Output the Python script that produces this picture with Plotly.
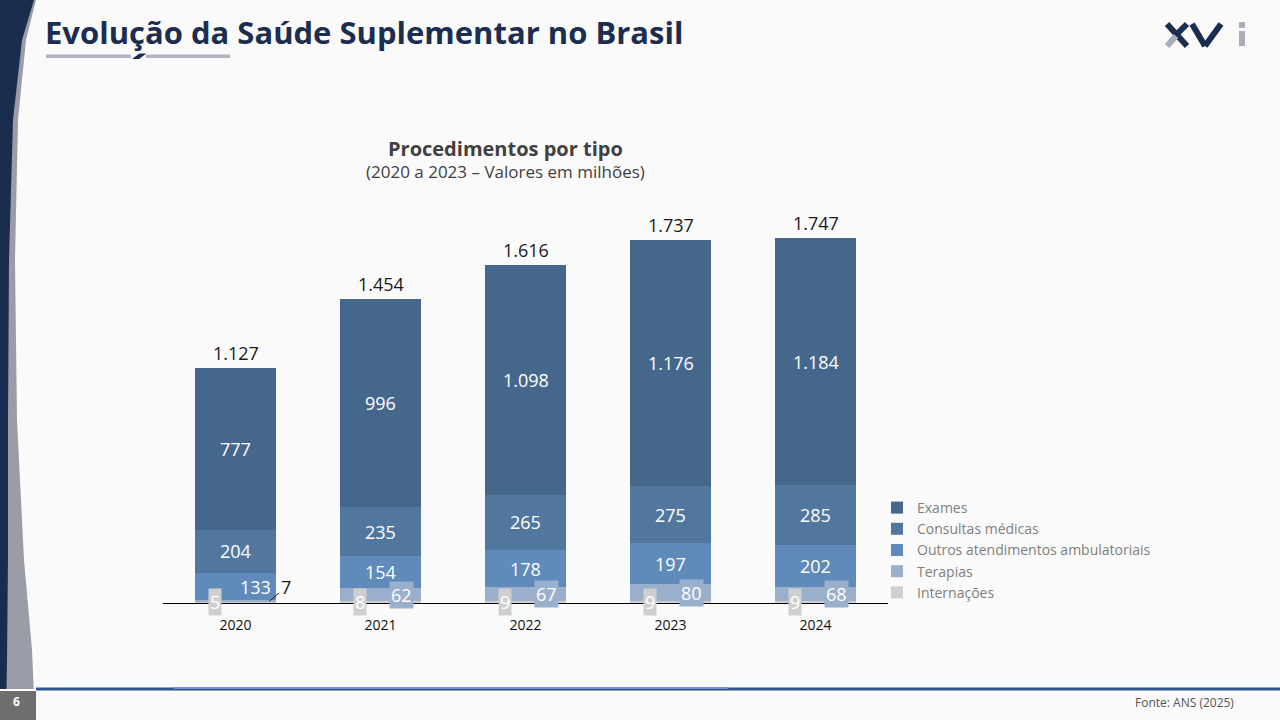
import plotly.graph_objects as go

# ---------------- data ----------------
years = ["2020", "2021", "2022", "2023", "2024"]
internacoes = [5, 8, 9, 9, 9]
terapias = [7, 62, 67, 80, 68]
outros = [133, 154, 178, 197, 202]
consultas = [204, 235, 265, 275, 285]
exames = [777, 996, 1098, 1176, 1184]
totais = [1127, 1454, 1616, 1737, 1747]

series_names = ["Internações", "Terapias", "Outros atendimentos ambulatoriais",
                "Consultas médicas", "Exames"]
series_values = [internacoes, terapias, outros, consultas, exames]
colors = ["#cfcfcf", "#9aafcc", "#5f8aba", "#51779f", "#46678c"]

# ---------------- layout helpers ----------------
W, H = 1280, 720
ML, MR, MT, MB = 163, 392, 120, 117
PW, PH = W - ML - MR, H - MT - MB


def px(x):
    return (x - ML) / PW


def py(y):
    return (H - MB - y) / PH


def path(points, close=True):
    s = "M " + " L ".join(f"{px(x):.5f},{py(y):.5f}" for x, y in points)
    return s + (" Z" if close else "")


def fmt(v):
    return f"{v:,}".replace(",", ".")


FONT = "Open Sans"

fig = go.Figure()
for name, vals, col in zip(series_names, series_values, colors):
    fig.add_trace(go.Bar(
        x=years, y=vals, name=name, marker=dict(color=col, line=dict(width=0)),
        hoverinfo="x+y+name",
    ))

annotations = []
# segment labels (x given as category index)
for i, yr in enumerate(years):
    base = 0
    for k, (name, vals, col) in enumerate(zip(series_names, series_values, colors)):
        v = vals[i]
        mid = base + v / 2
        common = dict(x=i, y=mid, xref="x", yref="y", xanchor="center", yanchor="middle", text=fmt(v))
        if k == 0:  # Internações
            annotations.append(dict(**common, showarrow=False, xshift=-21,
                                    font=dict(family=FONT, size=18, color="white"),
                                    bgcolor=col, borderpad=1))
        elif k == 1:  # Terapias
            if i == 0:
                annotations.append(dict(**common, showarrow=True, arrowhead=0,
                                        arrowwidth=1, arrowcolor="#222222", xshift=34,
                                        ax=16, ay=-14,
                                        font=dict(family=FONT, size=18, color="#1a1a1a")))
            else:
                annotations.append(dict(**common, showarrow=False, xshift=21,
                                        font=dict(family=FONT, size=18, color="white"),
                                        bgcolor=col, borderpad=1))
        else:
            xs = 20 if (k == 2 and i == 0) else 0
            annotations.append(dict(**common, showarrow=False, xshift=xs,
                                    font=dict(family=FONT, size=18, color="white")))
        base += v
    # totals
    annotations.append(dict(x=i, y=base, xref="x", yref="y", text=fmt(totais[i]), showarrow=False,
                            xanchor="center", yanchor="bottom", yshift=1,
                            font=dict(family=FONT, size=18, color="#1a1a1a")))


def paper_text(x, y, text, size, color, xanchor="center"):
    return dict(xref="paper", yref="paper", x=px(x), y=py(y), text=text, showarrow=False,
                xanchor=xanchor, yanchor="middle", font=dict(family=FONT, size=size, color=color))


annotations += [
    paper_text(505, 149, "<b>Procedimentos por tipo</b>", 20, "#404040"),
    paper_text(505, 171, "(2020 a 2023 – Valores em milhões)", 17, "#404040"),
    paper_text(43, 32, "<b>Evolução da Saúde Suplementar no Brasil</b>", 31, "#1c2e50", "left"),
    paper_text(16, 701, "<b>6</b>", 12, "white"),
    paper_text(1236, 702, "Fonte: ANS (2025)", 12, "#555555", "right"),
]

navy = "#1b2d4f"
shapes = [
    # left gray band
    dict(type="path", xref="paper", yref="paper", layer="below",
         path=path([(0, 0), (36, 0), (26, 40), (18, 120), (15, 260), (17, 420), (24, 560), (32, 650), (35, 720), (0, 720)]),
         fillcolor="#9a9ca7", line=dict(width=0)),
    # left navy band
    dict(type="path", xref="paper", yref="paper", layer="below",
         path=path([(0, 0), (34, 0), (22, 40), (13, 120), (9, 260), (8, 420), (8, 560), (7, 660), (6, 720), (0, 720)]),
         fillcolor=navy, line=dict(width=0)),
    # page number box
    dict(type="rect", xref="paper", yref="paper", layer="below",
         x0=px(0), x1=px(36), y0=py(720), y1=py(691), fillcolor="#6e6e6e", line=dict(width=0)),
    dict(type="line", xref="paper", yref="paper", x0=px(0), x1=px(36), y0=py(690), y1=py(690),
         line=dict(color="#ffffff", width=2)),
    # bottom rule
    dict(type="line", xref="paper", yref="paper", x0=px(36), x1=px(1280), y0=py(689), y1=py(689),
         line=dict(color="#2d5590", width=3)),
    dict(type="line", xref="paper", yref="paper", x0=px(174), x1=px(728), y0=py(688), y1=py(688),
         line=dict(color="#7894bd", width=2)),
    # title underline
    dict(type="rect", xref="paper", yref="paper", x0=px(46), x1=px(131), y0=py(58), y1=py(54.5),
         fillcolor="#b1b3c1", line=dict(width=0)),
    dict(type="rect", xref="paper", yref="paper", x0=px(146), x1=px(230), y0=py(58), y1=py(54.5),
         fillcolor="#b1b3c1", line=dict(width=0)),
    dict(type="path", xref="paper", yref="paper",
         path=path([(132, 59), (139, 59), (146.5, 53.5), (139.5, 53.5)]),
         fillcolor=navy, line=dict(width=0)),
    # logo X
    dict(type="line", xref="paper", yref="paper", x0=px(1167), y0=py(24), x1=px(1187), y1=py(46),
         line=dict(color=navy, width=6)),
    dict(type="line", xref="paper", yref="paper", x0=px(1187), y0=py(24), x1=px(1178), y1=py(33),
         line=dict(color=navy, width=6)),
    dict(type="line", xref="paper", yref="paper", x0=px(1176), y0=py(36), x1=px(1167), y1=py(46),
         line=dict(color="#a9acba", width=6)),
    # logo V
    dict(type="line", xref="paper", yref="paper", x0=px(1192), y0=py(24), x1=px(1205), y1=py(46),
         line=dict(color=navy, width=6)),
    dict(type="line", xref="paper", yref="paper", x0=px(1205), y0=py(46), x1=px(1221), y1=py(24),
         line=dict(color=navy, width=6)),
    # logo i
    dict(type="rect", xref="paper", yref="paper", x0=px(1239), x1=px(1245), y0=py(28), y1=py(22),
         fillcolor="#a9acba", line=dict(width=0)),
    dict(type="rect", xref="paper", yref="paper", x0=px(1239), x1=px(1245), y0=py(46), y1=py(31),
         fillcolor="#a9acba", line=dict(width=0)),
]

fig.update_layout(
    width=W, height=H,
    margin=dict(l=ML, r=MR, t=MT, b=MB, pad=0),
    paper_bgcolor="#fafafa", plot_bgcolor="rgba(0,0,0,0)",
    barmode="stack", bargap=0.448,
    font=dict(family=FONT, color="#000000"),
    xaxis=dict(type="category", range=[-0.5, 4.5], showline=True, linecolor="#000000", linewidth=1,
               ticks="", showgrid=False, zeroline=False, ticklabelstandoff=9,
               tickfont=dict(family=FONT, size=14, color="#111111"), fixedrange=True),
    yaxis=dict(range=[0, PH / (365 / 1748)], visible=False, showgrid=False, zeroline=False,
               fixedrange=True),
    legend=dict(traceorder="reversed", x=px(877), xanchor="left", y=py(492), yanchor="top",
                font=dict(family=FONT, size=14, color="#7f7f7f"), bgcolor="rgba(0,0,0,0)",
                itemwidth=30, tracegroupgap=0),
    annotations=annotations,
    shapes=shapes,
    showlegend=True,
)

fig.write_html("out.html", config={"displayModeBar": False},
               post_script="document.body.style.margin='0';document.body.style.overflow='hidden';")
